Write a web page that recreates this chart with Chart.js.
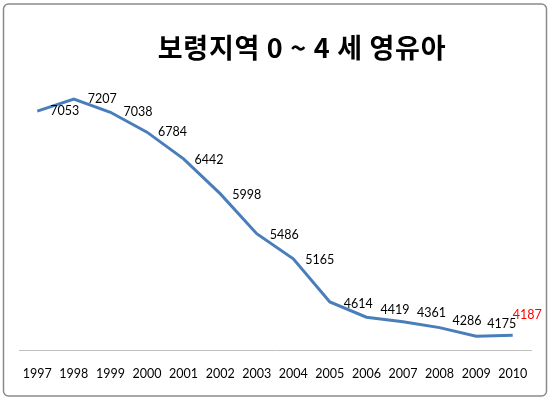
<!DOCTYPE html>
<html>
<head>
  <meta charset="utf-8">
  <title>보령지역 영유아</title>
  <script src="https://cdn.jsdelivr.net/npm/chart.js@4.4.0/dist/chart.umd.min.js"></script>
  <style>
    html, body { margin: 0; padding: 0; background: #fff; }
    #wrap { width: 550px; height: 399px; }
  </style>
</head>
<body>
  <div id="wrap">
    <canvas id="chart" width="550" height="399"></canvas>
  </div>
  <script>
  // data
  const years = ['1997', '1998', '1999', '2000', '2001', '2002', '2003',
                 '2004', '2005', '2006', '2007', '2008', '2009', '2010'];
  const children = [7053, 7207, 7038, 6784, 6442, 5998, 5486,
                    5165, 4614, 4419, 4361, 4286, 4175, 4187];
  const chartTitle = '보령지역 0 ~ 4 세 영유아';

  // label nudges (dx, dy) from each point, like the hand placed labels in the original
  const labelNudge = [[13, 0], [14, 0], [13, 0], [11, 0], [11, 1], [12, 1], [13, 1],
                      [12, 1], [14, 2], [14, -7], [14, -9], [13, -7], [11, -12], [0, -20]];

  // outer frame + title
  const frame = {
    id: 'frame',
    beforeDraw(chart) {
      const c = chart.ctx;
      c.save();
      c.fillStyle = '#fff';
      c.fillRect(0, 0, chart.width, chart.height);
      c.strokeStyle = '#8a8a8a';
      c.lineWidth = 1.5;
      c.beginPath();
      c.roundRect(3.5, 4, 543, 392, 5);
      c.stroke();
      c.fillStyle = '#000';
      c.font = 'bold 27px "Noto Sans CJK KR", sans-serif';
      c.letterSpacing = '0.7px';
      c.textAlign = 'center';
      c.textBaseline = 'middle';
      c.fillText(chartTitle, 302, 48);
      c.restore();
    }
  };

  // value labels
  const valueLabels = {
    id: 'valueLabels',
    afterDatasetsDraw(chart) {
      const c = chart.ctx;
      const meta = chart.getDatasetMeta(0);
      c.save();
      c.font = '12.5px Lato, sans-serif';
      c.textAlign = 'left';
      c.textBaseline = 'middle';
      meta.data.forEach(function(pt, i) {
        const n = labelNudge[i];
        c.fillStyle = i === children.length - 1 ? '#ff0000' : '#000';
        c.fillText(String(children[i]), pt.x + n[0], pt.y + n[1]);
      });
      c.restore();
    }
  };

  new Chart(document.getElementById('chart'), {
    type: 'line',
    data: {
      labels: years,
      datasets: [{
        data: children,
        borderColor: '#4a7ebb',
        borderWidth: 3,
        pointRadius: 0,
        tension: 0,
        fill: false,
      }],
    },
    options: {
      responsive: false,
      animation: false,
      layout: { padding: { left: 19, right: 19, top: 37, bottom: 18 } },
      plugins: {
        legend: { display: false },
        tooltip: { enabled: false },
        title: { display: false },
      },
      scales: {
        x: {
          offset: true,
          grid: { display: false, drawTicks: false },
          border: { display: true, color: '#c0c0c0', width: 1 },
          ticks: {
            padding: 16,
            color: '#000',
            maxRotation: 0,
            autoSkip: false,
            font: { family: 'Lato', size: 12.5 },
          },
          afterFit(scale) { scale.height = 31; },
        },
        y: {
          display: false,
          min: 4000,
          max: 8000,
        },
      },
    },
    plugins: [frame, valueLabels],
  });
  </script>
</body>
</html>
